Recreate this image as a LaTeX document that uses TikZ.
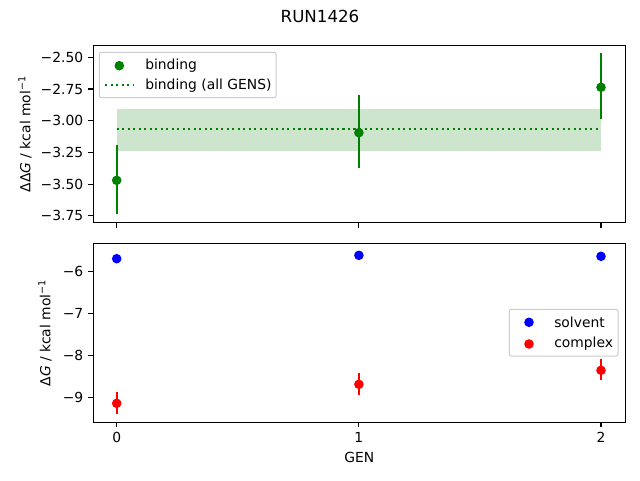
\documentclass[tikz,border=0pt]{standalone}
\usepackage{fontspec}
\setmainfont{DejaVu Sans}
\definecolor{mplgreen}{HTML}{008000}
\definecolor{mplblue}{HTML}{0000FF}
\definecolor{mplred}{HTML}{FF0000}
\definecolor{legframe}{HTML}{CCCCCC}
\tikzset{
  axisbox/.style={line width=0.83pt},
  tickmark/.style={line width=0.83pt},
  ticklabel/.style={font=\fontsize{10.4}{12}\selectfont, inner sep=0pt},
  errbar/.style={line width=1.56pt},
  legendbox/.style={draw=legframe, fill=white, fill opacity=0.8, rounded corners=1.5pt, line width=0.75pt},
  meanline/.style={mplgreen, line width=1.56pt, dash pattern=on 1.56pt off 2.57pt}
}
\begin{document}
\begin{tikzpicture}[x=0.75pt,y=-0.75pt]
  \useasboundingbox[fill=white] (0,0) rectangle (640,480);
  % title
  \node[font=\fontsize{12.5}{14}\selectfont, inner sep=0pt] (title) at (320,16.5) {RUN1426};

  % top panel: binding
  \fill[mplgreen, fill opacity=0.2] (116.7,109) rectangle (601,150.7);
  \draw[meanline] (116.7,128.7) -- (601,128.7);
  \draw[errbar, mplgreen] (116.7,145) -- (116.7,214.3);
  \draw[errbar, mplgreen] (358.9,95.3) -- (358.9,167.7);
  \draw[errbar, mplgreen] (601,53) -- (601,119.3);
  \fill[mplgreen] (116.7,180.3) circle [radius=3.6pt];
  \fill[mplgreen] (358.9,132.7) circle [radius=3.6pt];
  \fill[mplgreen] (601,87.3) circle [radius=3.6pt];
  \draw[axisbox] (93.3,45.3) rectangle (625.3,222.7);
  \foreach \y/\lab in {57.3/−2.50, 89.0/−2.75, 120.7/−3.00, 152.4/−3.25, 184.1/−3.50, 215.8/−3.75} {
    \draw[tickmark] (93.3,\y) -- (88.4,\y);
    \node[ticklabel, anchor=east] at (83.5,\y) {\lab};
  }
  \foreach \x in {116.7, 358.9, 601} {
    \draw[tickmark] (\x,222.7) -- (\x,227.6);
  }
  \node[ticklabel, rotate=90] (ddglabel) at (25,134) {ΔΔ\textit{G} / kcal mol\textsuperscript{−1}};
  % legend top
  \draw[legendbox] (99.3,52.3) rectangle (276,97.7);
  \fill[mplgreen] (119.3,65.7) circle [radius=3.6pt];
  \draw[meanline] (105,85.3) -- (133.3,85.3);
  \node[ticklabel, anchor=west] (legbind) at (145,65.7) {binding};
  \node[ticklabel, anchor=west] (legall) at (145,85.3) {binding (all GENS)};

  % bottom panel: solvent and complex
  \draw[errbar, mplred] (116.7,392.3) -- (116.7,413.8);
  \draw[errbar, mplred] (358.9,373.3) -- (358.9,394.8);
  \draw[errbar, mplred] (601,359.3) -- (601,379.8);
  \fill[mplred] (116.7,403.3) circle [radius=3.6pt];
  \fill[mplred] (358.9,384.3) circle [radius=3.6pt];
  \fill[mplred] (601,370.3) circle [radius=3.6pt];
  \fill[mplblue] (116.7,258.7) circle [radius=3.6pt];
  \fill[mplblue] (358.9,255.3) circle [radius=3.6pt];
  \fill[mplblue] (601,256.3) circle [radius=3.6pt];
  \draw[axisbox] (93.3,243.3) rectangle (625.3,422.3);
  \foreach \y/\lab in {271.7/−6, 313.6/−7, 355.5/−8, 397.4/−9} {
    \draw[tickmark] (93.3,\y) -- (88.4,\y);
    \node[ticklabel, anchor=east] at (83.5,\y) {\lab};
  }
  \foreach \x/\lab in {116.7/0, 358.9/1, 601/2} {
    \draw[tickmark] (\x,422.3) -- (\x,427.2);
    \node[ticklabel] at (\x,437.3) {\lab};
  }
  \node[ticklabel] (genlabel) at (359.3,457.7) {GEN};
  \node[ticklabel, rotate=90] (dglabel) at (45,333) {Δ\textit{G} / kcal mol\textsuperscript{−1}};
  % legend bottom
  \draw[legendbox] (509.3,309.3) rectangle (618,356);
  \fill[mplblue] (529,322.3) circle [radius=3.6pt];
  \fill[mplred] (529,344) circle [radius=3.6pt];
  \node[ticklabel, anchor=west] (legsolv) at (554,322.3) {solvent};
  \node[ticklabel, anchor=west] (legcplx) at (554,344) {complex};
\end{tikzpicture}
\end{document}
